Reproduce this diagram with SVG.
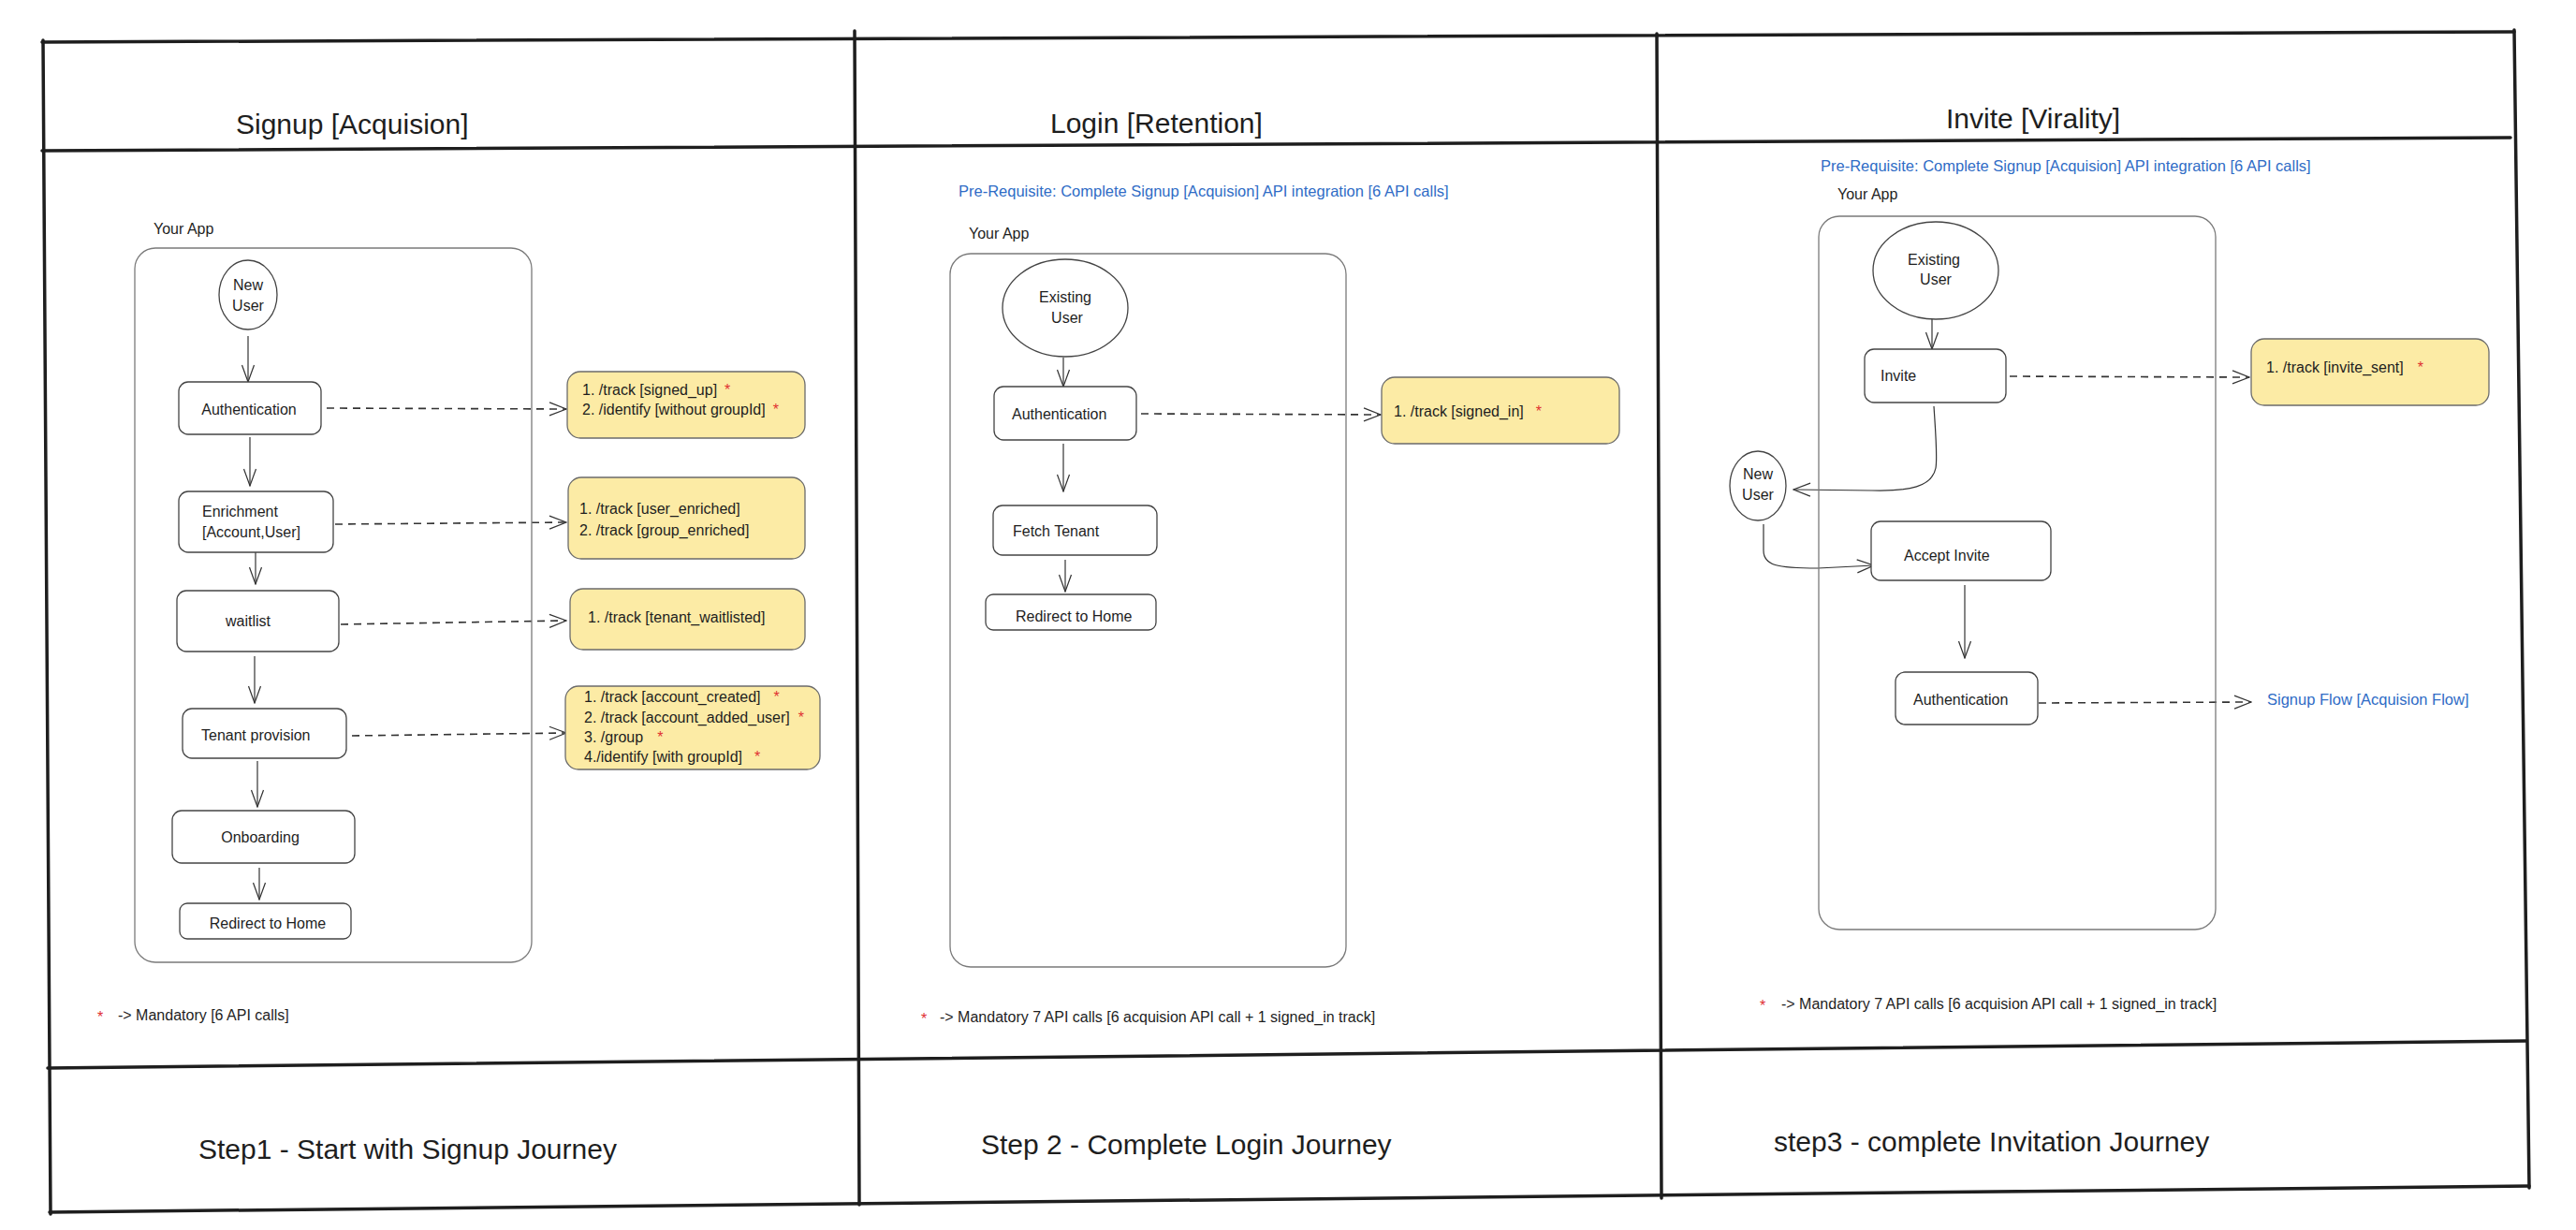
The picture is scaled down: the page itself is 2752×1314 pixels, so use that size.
<svg xmlns="http://www.w3.org/2000/svg" width="2752" height="1314" viewBox="0 0 2752 1314">
<defs>
<style>
text{font-family:"Liberation Sans",Arial,sans-serif;fill:#1e1e1e}
.frame{stroke:#1e1e1e;stroke-width:3.5;fill:none;stroke-linecap:round}
.title{font-size:30px}
.sm{font-size:16px}
.blue{fill:#2f6cc6;font-size:16.5px}
.star{fill:#e03131}
.cont{fill:none;stroke:#7a7a7a;stroke-width:1.3}
.node{fill:#fff;stroke:#444;stroke-width:1.3}
.api{fill:#fcebA5;stroke:#6b6b6b;stroke-width:1.3}
.flow{fill:none;stroke:#333;stroke-width:1.2}
.dash{fill:none;stroke:#333;stroke-width:1.6;stroke-dasharray:8 6}
</style>
<marker id="vd" markerWidth="20" markerHeight="16" refX="19" refY="8" orient="auto" markerUnits="userSpaceOnUse"><path d="M1,1 L19,8 L1,15" fill="none" stroke="#333" stroke-width="1.3"/></marker>
<marker id="vs" markerWidth="20" markerHeight="14" refX="19" refY="7" orient="auto" markerUnits="userSpaceOnUse"><path d="M1,0.5 L19,7 L1,13.5" fill="none" stroke="#333" stroke-width="1.2"/></marker>
</defs>
<rect width="2752" height="1314" fill="#fff"/>

<g id="frame">
<line class="frame" x1="45" y1="45" x2="2686" y2="34"/>
<line class="frame" x1="45" y1="161" x2="2682" y2="147"/>
<line class="frame" x1="51" y1="1141" x2="2699" y2="1112"/>
<line class="frame" x1="53" y1="1295" x2="2702" y2="1267"/>
<line class="frame" x1="46" y1="43" x2="54" y2="1297"/>
<line class="frame" x1="913" y1="33" x2="918" y2="1287"/>
<line class="frame" x1="1770" y1="36" x2="1775" y2="1280"/>
<line class="frame" x1="2686" y1="32" x2="2702" y2="1269"/>
</g>

<g id="headers">
<text class="title" x="252" y="143">Signup [Acquision]</text>
<text class="title" x="1122" y="142">Login [Retention]</text>
<text class="title" x="2079" y="137">Invite [Virality]</text>
<text class="title" x="212" y="1238">Step1 - Start with Signup Journey</text>
<text class="title" x="1048" y="1233">Step 2 - Complete Login Journey</text>
<text class="title" x="1895" y="1230">step3 - complete Invitation Journey</text>
</g>

<g id="connectors">
<line class="flow" x1="265" y1="359" x2="265" y2="408" marker-end="url(#vs)"/>
<line class="flow" x1="267" y1="467" x2="267" y2="519" marker-end="url(#vs)"/>
<line class="flow" x1="273" y1="590" x2="273" y2="624" marker-end="url(#vs)"/>
<line class="flow" x1="272" y1="701" x2="272" y2="751" marker-end="url(#vs)"/>
<line class="flow" x1="275" y1="813" x2="275" y2="862" marker-end="url(#vs)"/>
<line class="flow" x1="277" y1="927" x2="277" y2="961" marker-end="url(#vs)"/>
<line class="dash" x1="349" y1="436" x2="605" y2="437" marker-end="url(#vd)"/>
<line class="dash" x1="358" y1="560" x2="605" y2="558" marker-end="url(#vd)"/>
<line class="dash" x1="364" y1="667" x2="605" y2="663" marker-end="url(#vd)"/>
<line class="dash" x1="376" y1="786" x2="605" y2="783" marker-end="url(#vd)"/>
<line class="flow" x1="1136" y1="382" x2="1136" y2="413" marker-end="url(#vs)"/>
<line class="flow" x1="1136" y1="474" x2="1136" y2="525" marker-end="url(#vs)"/>
<line class="flow" x1="1138" y1="598" x2="1138" y2="632" marker-end="url(#vs)"/>
<line class="dash" x1="1219" y1="442" x2="1475" y2="443" marker-end="url(#vd)"/>
<line class="flow" x1="2064" y1="341" x2="2064" y2="373" marker-end="url(#vs)"/>
<path class="flow" d="M2066,434 C2068,465 2070,488 2068,500 C2064,520 2040,525 2000,524 L1916,523" marker-end="url(#vd)"/>
<path class="flow" d="M1884,560 L1884,588 C1884,604 1898,607 1942,607 L2002,604" marker-end="url(#vd)"/>
<line class="flow" x1="2099" y1="625" x2="2099" y2="703" marker-end="url(#vs)"/>
<line class="dash" x1="2147" y1="402" x2="2403" y2="403" marker-end="url(#vd)"/>
<line class="dash" x1="2178" y1="751" x2="2405" y2="750" marker-end="url(#vd)"/>
</g>

<g id="signup-app">
<text class="sm" x="164" y="250">Your App</text>
<rect class="cont" x="144" y="265" width="424" height="763" rx="22"/>
</g>
<g id="signup-newuser">
<ellipse class="node" cx="265" cy="315" rx="31" ry="37"/>
<text class="sm" x="265" y="310" text-anchor="middle">New</text>
<text class="sm" x="265" y="332" text-anchor="middle">User</text>
</g>
<g id="signup-auth">
<rect class="node" x="191" y="408" width="152" height="56" rx="10"/>
<text class="sm" x="266" y="443" text-anchor="middle">Authentication</text>
</g>
<g id="signup-enrich">
<rect class="node" x="191" y="525" width="165" height="65" rx="10"/>
<text class="sm" x="216" y="552">Enrichment</text>
<text class="sm" x="216" y="574">[Account,User]</text>
</g>
<g id="signup-waitlist">
<rect class="node" x="189" y="631" width="173" height="65" rx="10"/>
<text class="sm" x="265" y="669" text-anchor="middle">waitlist</text>
</g>
<g id="signup-tenant">
<rect class="node" x="195" y="757" width="175" height="53" rx="10"/>
<text class="sm" x="215" y="791">Tenant provision</text>
</g>
<g id="signup-onboarding">
<rect class="node" x="184" y="866" width="195" height="56" rx="10"/>
<text class="sm" x="278" y="900" text-anchor="middle">Onboarding</text>
</g>
<g id="signup-redirect">
<rect class="node" x="192" y="965" width="183" height="38" rx="8"/>
<text class="sm" x="286" y="992" text-anchor="middle">Redirect to Home</text>
</g>
<g id="signup-api1">
<rect class="api" x="606" y="397" width="254" height="71" rx="14"/>
<text class="sm" x="622" y="422">1. /track [signed_up]<tspan class="star" dx="8">*</tspan></text>
<text class="sm" x="622" y="443">2. /identify [without groupId]<tspan class="star" dx="8">*</tspan></text>
</g>
<g id="signup-api2">
<rect class="api" x="607" y="510" width="253" height="87" rx="14"/>
<text class="sm" x="619" y="549">1. /track [user_enriched]</text>
<text class="sm" x="619" y="572">2. /track [group_enriched]</text>
</g>
<g id="signup-api3">
<rect class="api" x="609" y="629" width="251" height="65" rx="14"/>
<text class="sm" x="628" y="665">1. /track [tenant_waitlisted]</text>
</g>
<g id="signup-api4">
<rect class="api" x="604" y="733" width="272" height="89" rx="14"/>
<text class="sm" x="624" y="750">1. /track [account_created]<tspan class="star" dx="14">*</tspan></text>
<text class="sm" x="624" y="772">2. /track [account_added_user]<tspan class="star" dx="9">*</tspan></text>
<text class="sm" x="624" y="793">3. /group<tspan class="star" dx="15">*</tspan></text>
<text class="sm" x="624" y="814">4./identify [with groupId]<tspan class="star" dx="13">*</tspan></text>
</g>
<g id="signup-legend">
<text class="sm star" x="104" y="1092">*</text>
<text class="sm" x="126" y="1090">-&gt; Mandatory [6 API calls]</text>
</g>

<g id="login-prereq"><text class="blue" x="1024" y="210">Pre-Requisite: Complete Signup [Acquision] API integration [6 API calls]</text></g>
<g id="login-app">
<text class="sm" x="1035" y="255">Your App</text>
<rect class="cont" x="1015" y="271" width="423" height="762" rx="22"/>
</g>
<g id="login-user">
<ellipse class="node" cx="1138" cy="329" rx="67" ry="52"/>
<text class="sm" x="1138" y="323" text-anchor="middle">Existing</text>
<text class="sm" x="1140" y="345" text-anchor="middle">User</text>
</g>
<g id="login-auth">
<rect class="node" x="1062" y="413" width="152" height="57" rx="10"/>
<text class="sm" x="1081" y="448">Authentication</text>
</g>
<g id="login-fetch">
<rect class="node" x="1061" y="540" width="175" height="53" rx="10"/>
<text class="sm" x="1082" y="573">Fetch Tenant</text>
</g>
<g id="login-redirect">
<rect class="node" x="1053" y="635" width="182" height="38" rx="8"/>
<text class="sm" x="1085" y="664">Redirect to Home</text>
</g>
<g id="login-api">
<rect class="api" x="1476" y="403" width="254" height="71" rx="14"/>
<text class="sm" x="1489" y="445">1. /track [signed_in]<tspan class="star" dx="13">*</tspan></text>
</g>
<g id="login-legend">
<text class="sm star" x="984" y="1094">*</text>
<text class="sm" x="1004" y="1092">-&gt; Mandatory 7 API calls [6 acquision API call + 1 signed_in track]</text>
</g>

<g id="invite-prereq"><text class="blue" x="1945" y="183">Pre-Requisite: Complete Signup [Acquision] API integration [6 API calls]</text></g>
<g id="invite-app">
<text class="sm" x="1963" y="213">Your App</text>
<rect class="cont" x="1943" y="231" width="424" height="762" rx="22"/>
</g>
<g id="invite-user">
<ellipse class="node" cx="2068" cy="289" rx="67" ry="52"/>
<text class="sm" x="2066" y="283" text-anchor="middle">Existing</text>
<text class="sm" x="2068" y="304" text-anchor="middle">User</text>
</g>
<g id="invite-invite">
<rect class="node" x="1992" y="373" width="151" height="57" rx="10"/>
<text class="sm" x="2009" y="407">Invite</text>
</g>
<g id="invite-newuser">
<ellipse class="node" cx="1878" cy="519" rx="30" ry="37"/>
<text class="sm" x="1878" y="512" text-anchor="middle">New</text>
<text class="sm" x="1878" y="534" text-anchor="middle">User</text>
</g>
<g id="invite-accept">
<rect class="node" x="1999" y="557" width="192" height="63" rx="10"/>
<text class="sm" x="2034" y="599">Accept Invite</text>
</g>
<g id="invite-auth">
<rect class="node" x="2025" y="718" width="152" height="56" rx="10"/>
<text class="sm" x="2044" y="753">Authentication</text>
</g>
<g id="invite-api">
<rect class="api" x="2405" y="362" width="254" height="71" rx="14"/>
<text class="sm" x="2421" y="398">1. /track [invite_sent]<tspan class="star" dx="15">*</tspan></text>
</g>
<g id="invite-signupflow"><text class="blue" x="2422" y="753">Signup Flow [Acquision Flow]</text></g>
<g id="invite-legend">
<text class="sm star" x="1880" y="1080">*</text>
<text class="sm" x="1903" y="1078">-&gt; Mandatory 7 API calls [6 acquision API call + 1 signed_in track]</text>
</g>
</svg>
